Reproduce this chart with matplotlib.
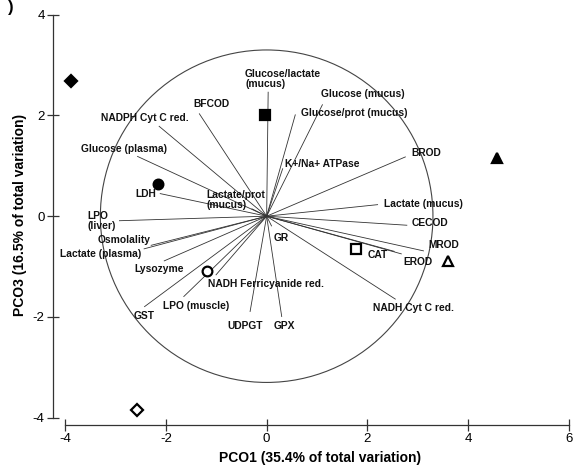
import matplotlib
matplotlib.use("Agg")
import matplotlib.pyplot as plt
from matplotlib.patches import Circle

plt.rcParams['font.family'] = ['Liberation Sans', 'DejaVu Sans']
plt.rcParams['axes.unicode_minus'] = False

# ---- Data ----
var_names = ["Glucose/lactate\n(mucus)", "BFCOD", "Glucose (mucus)", "Glucose/prot (mucus)",
             "K+/Na+ ATPase", "NADPH Cyt C red.", "Glucose (plasma)", "LDH",
             "Lactate/prot\n(mucus)", "LPO\n(liver)", "Osmolality", "Lactate (plasma)",
             "Lysozyme", "GST", "LPO (muscle)", "NADH Ferricyanide red.", "UDPGT", "GPX",
             "GR", "BROD", "Lactate (mucus)", "CECOD", "MROD", "EROD", "CAT",
             "NADH Cyt C red."]
var_x = [0.03, -1.34, 1.11, 0.57, 0.32, -2.14, -2.57, -2.12, -0.30, -2.93, -2.30, -2.44,
         -2.04, -2.43, -1.65, -1.01, -0.33, 0.30, 0.10, 2.76, 2.21, 2.79, 3.12, 2.68, 2.54, 2.56]
var_y = [2.47, 2.04, 2.22, 2.02, 0.95, 1.79, 1.19, 0.45, 0.15, -0.09, -0.58, -0.65,
         -0.89, -1.80, -1.60, -1.17, -1.90, -2.00, -0.20, 1.18, 0.23, -0.18, -0.69, -0.75, -0.70, -1.65]

sample_x = [-3.89, -0.04, -2.15, 4.58, -1.19, -2.57, 1.78, 3.60]
sample_y = [2.68, 2.00, 0.64, 1.16, -1.09, -3.84, -0.66, -0.89]
sample_marker = ["D", "s", "o", "^", "o", "D", "s", "^"]
sample_filled = [True, True, True, True, False, False, False, False]

circle_radius = 3.3

x_ticks = [-4, -2, 0, 2, 4, 6]
y_ticks = [-4, -2, 0, 2, 4]
x_label = "PCO1 (35.4% of total variation)"
y_label = "PCO3 (16.5% of total variation)"

# label offsets from the vector end (pixels: dx right, dy up), centre-anchored
label_offsets = [(15, 13), (12, 9), (40, 10), (59, 1), (39, 4), (-14, 8.5), (-13, 7.5),
                 (-14, 0), (-16, 9), (-17, 0), (-27, 5), (-43.5, -5.5), (-5, -8), (0, -9),
                 (13, -9), (50, -8.5), (-5, -14), (3, -9.5), (9, -12), (21, 4), (45, 1),
                 (23, 2), (20, 5.5), (16, -8.5), (-17, -4), (18, -8.5)]

# ---- Figure ----
fig = plt.figure(figsize=(5.8, 4.73), dpi=100)
ax = fig.add_axes([53 / 580, 1 - 425 / 473, 516 / 580, 410.3 / 473])
ax.set_xlim(-4.24, 6.0)
ax.set_ylim(-4.145, 4.0)

line_col = "#333333"
ax.add_patch(Circle((0, 0), circle_radius, fill=False, lw=0.8, ec="#444444"))

for name, vx, vy, off in zip(var_names, var_x, var_y, label_offsets):
    ax.plot([0, vx], [0, vy], color=line_col, lw=0.6, solid_capstyle="butt")
    ax.annotate(name, xy=(vx, vy), xytext=off, textcoords="offset pixels",
                ha="center", va="center", multialignment="left",
                fontsize=7.4, fontweight="bold", color="#111111", linespacing=1.0)

for sx, sy, m, f in zip(sample_x, sample_y, sample_marker, sample_filled):
    ms = {"D": 6.0, "s": 6.5, "o": 7.0, "^": 7.5}[m]
    ax.plot(sx, sy, marker=m, ms=ms, mec="black",
            mfc="black" if f else "white", mew=1.6, ls="none", zorder=5)

for s in ["top", "right"]:
    ax.spines[s].set_visible(False)
ax.spines["left"].set_bounds(-4, 4)
ax.spines["bottom"].set_bounds(-4, 6)
for s in ["left", "bottom"]:
    ax.spines[s].set_color(line_col)
    ax.spines[s].set_linewidth(0.9)

ax.set_xticks(x_ticks)
ax.set_yticks(y_ticks)
ax.tick_params(direction="inout", length=9, width=0.9, color=line_col,
               labelsize=9.5, pad=1.5)

ax.set_xlabel(x_label, fontsize=10, fontweight="bold")
ax.set_ylabel(y_label, fontsize=10, fontweight="bold")
ax.xaxis.set_label_coords(0.517, -0.063)
ax.yaxis.set_label_coords(-0.051, 0.512)

fig.text(0.018, 1.0, ")", fontsize=12, fontweight="bold", ha="center", va="top")

fig.savefig("out.png", dpi=100)
